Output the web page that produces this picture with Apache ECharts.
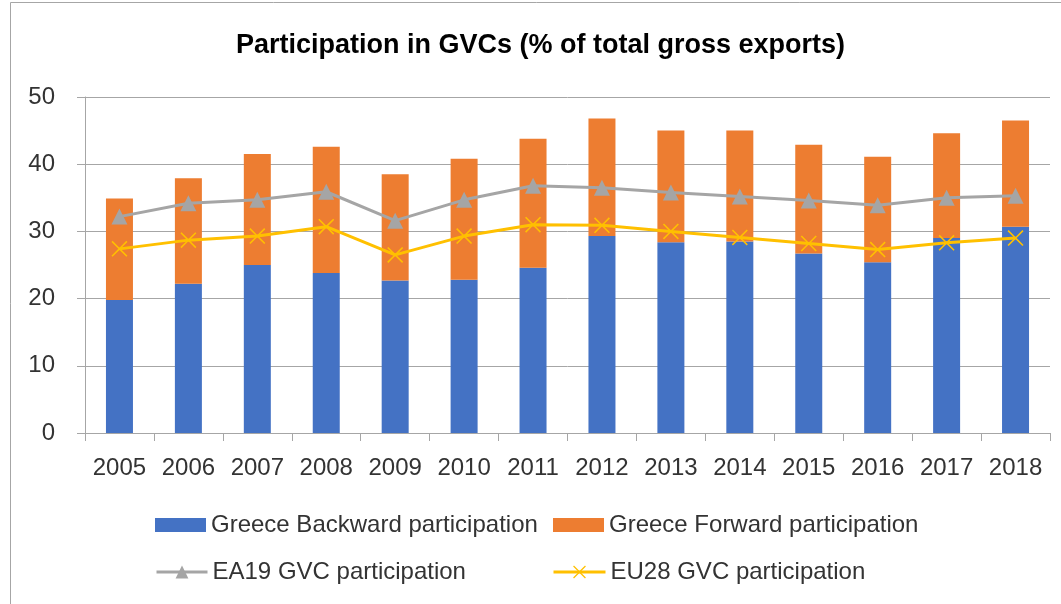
<!DOCTYPE html>
<html>
<head>
<meta charset="utf-8">
<script src="https://cdn.jsdelivr.net/npm/echarts@6/dist/echarts.min.js"></script>
<style>
html,body{margin:0;padding:0;background:#fff;}
#chart{width:1061px;height:604px;}
</style>
</head>
<body>
<div id="chart"></div>
<script>
var years = ['2005','2006','2007','2008','2009','2010','2011','2012','2013','2014','2015','2016','2017','2018'];
var backward = [19.8, 22.2, 25.0, 23.8, 22.7, 22.8, 24.6, 29.3, 28.4, 28.5, 26.7, 25.4, 29.0, 30.7];
var forward = [15.1, 15.7, 16.5, 18.8, 15.8, 18.0, 19.2, 17.5, 16.6, 16.5, 16.2, 15.7, 15.6, 15.8];
var ea19 = [32.2, 34.2, 34.7, 35.9, 31.6, 34.7, 36.8, 36.5, 35.8, 35.2, 34.6, 33.9, 35.0, 35.3];
var eu28 = [27.4, 28.7, 29.3, 30.7, 26.5, 29.3, 31.0, 30.9, 30.0, 29.1, 28.2, 27.3, 28.3, 29.0];

var font = 'Liberation Sans';
var txtColor = '#333333';
var xMark = 'path://M0,0.7L0.7,0L5,4.3L9.3,0L10,0.7L5.7,5L10,9.3L9.3,10L5,5.7L0.7,10L0,9.3L4.3,5Z';

var legendText = { fontFamily: font, fontSize: 24, color: txtColor };

var dom = document.getElementById('chart');
var myChart = echarts.init(dom);
var option = {
    animation: false,
    backgroundColor: '#fff',
    title: {
        text: 'Participation in GVCs (% of total gross exports)',
        left: 236,
        top: 32,
        padding: 0,
        textStyle: { fontFamily: font, fontSize: 27, fontWeight: 'bold', color: '#000' }
    },
    graphic: [{
        type: 'rect',
        shape: { x: 10.5, y: 2.5, width: 1070, height: 620 },
        style: { fill: 'none', stroke: '#a6a6a6', lineWidth: 1 },
        silent: true
    }],
    legend: [{
        data: [{ name: 'Greece Backward participation', icon: 'rect' }],
        left: 155, top: 513, padding: 0,
        itemWidth: 51, itemHeight: 14,
        textStyle: legendText
    }, {
        data: [{ name: 'Greece Forward participation', icon: 'rect' }],
        left: 553, top: 513, padding: 0,
        itemWidth: 51, itemHeight: 14,
        textStyle: legendText
    }, {
        data: [{ name: 'EA19 GVC participation' }],
        left: 155, top: 560, padding: 0,
        itemWidth: 51, itemHeight: 16,
        lineStyle: { width: 3 },
        textStyle: legendText
    }, {
        data: [{ name: 'EU28 GVC participation' }],
        left: 552, top: 560, padding: 0,
        itemWidth: 52, itemHeight: 16,
        lineStyle: { width: 3 },
        textStyle: legendText
    }],
    grid: { left: 85, right: 11, top: 97, bottom: 171 },
    xAxis: {
        type: 'category',
        data: years,
        axisLine: { lineStyle: { color: '#a6a6a6', width: 1 } },
        axisTick: { show: true, interval: 0, alignWithLabel: false, length: 8, lineStyle: { color: '#a6a6a6' } },
        axisLabel: { interval: 0, hideOverlap: false, fontFamily: font, fontSize: 24, color: txtColor, margin: 23 }
    },
    yAxis: {
        type: 'value',
        min: 0, max: 50, interval: 10,
        axisLine: { show: true, lineStyle: { color: '#a6a6a6', width: 1 } },
        axisTick: { show: true, length: 8, lineStyle: { color: '#a6a6a6' } },
        splitLine: { lineStyle: { color: '#a6a6a6', width: 1 } },
        axisLabel: { fontFamily: font, fontSize: 24, color: txtColor, margin: 30 }
    },
    series: [{
        name: 'Greece Backward participation',
        type: 'bar',
        stack: 'gr',
        barWidth: 27,
        data: backward,
        itemStyle: { color: '#4472c4' }
    }, {
        name: 'Greece Forward participation',
        type: 'bar',
        stack: 'gr',
        barWidth: 27,
        data: forward,
        itemStyle: { color: '#ed7d31' }
    }, {
        name: 'EA19 GVC participation',
        type: 'line',
        data: ea19,
        symbol: 'triangle',
        symbolSize: 16,
        lineStyle: { color: '#a5a5a5', width: 3 },
        itemStyle: { color: '#a5a5a5' }
    }, {
        name: 'EU28 GVC participation',
        type: 'line',
        data: eu28,
        symbol: xMark,
        symbolSize: 16,
        lineStyle: { color: '#ffc000', width: 3 },
        itemStyle: { color: '#ffc000' }
    }]
};
myChart.setOption(option);
</script>
</body>
</html>
